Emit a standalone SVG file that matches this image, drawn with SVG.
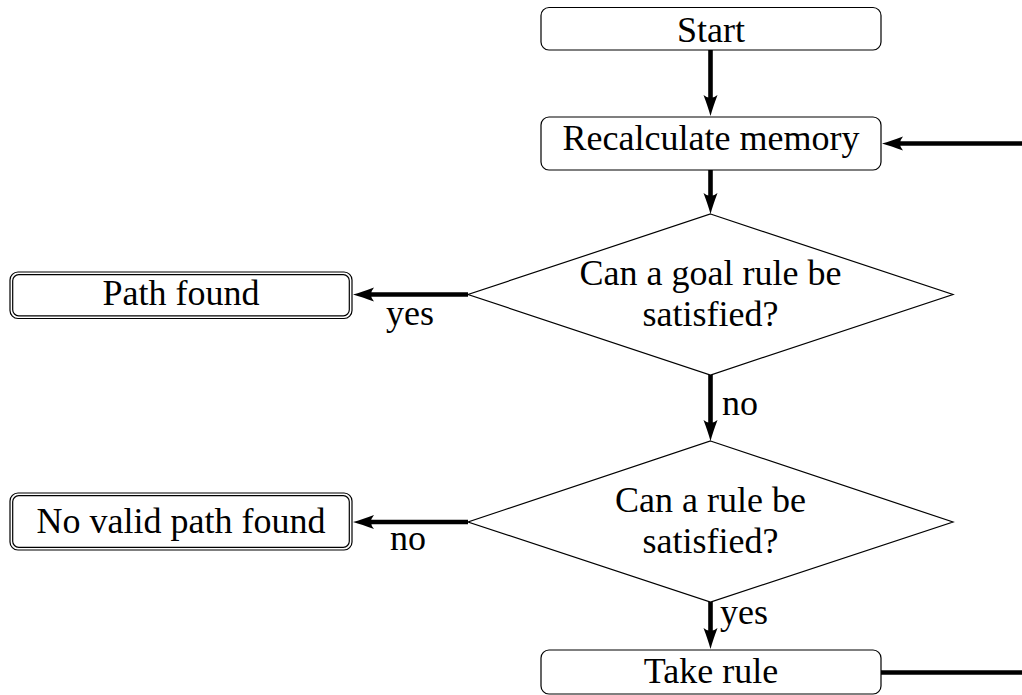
<svg xmlns="http://www.w3.org/2000/svg" width="1022" height="695" viewBox="0 0 1022 695">
  <style>
    .box { fill: #ffffff; stroke: #000000; stroke-width: 1.2; }
    .dec { fill: #ffffff; stroke: #000000; stroke-width: 1.2; stroke-linejoin: miter; }
    .lbl { font-family: "Liberation Serif", "Times New Roman", serif; font-size: 36px; fill: #000000; }
    .mid { text-anchor: middle; }
    .edge { fill: none; stroke: #000000; stroke-width: 4.6; }
    .head { fill: #000000; stroke: none; }
  </style>
  <defs>
    <!-- arrowhead with its tip at the origin, pointing along +x -->
    <path id="tip" class="head" d="M0,0 Q-9,-2.5 -21,-7 Q-15,0 -21,7 Q-9,2.5 0,0 Z"/>
  </defs>

  <rect width="1022" height="695" fill="#ffffff"/>

  <!-- connectors -->
  <g id="connectors">
    <!-- Start -> Recalculate memory -->
    <line class="edge" x1="710.5" y1="50" x2="710.5" y2="100"/>
    <use href="#tip" transform="translate(710.5,116) rotate(90)"/>
    <!-- Recalculate memory -> goal rule decision -->
    <line class="edge" x1="710.5" y1="170" x2="710.5" y2="198"/>
    <use href="#tip" transform="translate(710.5,214) rotate(90)"/>
    <!-- goal rule decision -> Path found -->
    <line class="edge" x1="468" y1="294.5" x2="369" y2="294.5"/>
    <use href="#tip" transform="translate(353,294.5) rotate(180)"/>
    <text class="lbl" x="386" y="325">yes</text>
    <!-- goal rule decision -> rule decision -->
    <line class="edge" x1="710.5" y1="375" x2="710.5" y2="425"/>
    <use href="#tip" transform="translate(710.5,441) rotate(90)"/>
    <text class="lbl" x="722" y="415">no</text>
    <!-- rule decision -> No valid path found -->
    <line class="edge" x1="468" y1="522" x2="369" y2="522"/>
    <use href="#tip" transform="translate(353,522) rotate(180)"/>
    <text class="lbl" x="390" y="550">no</text>
    <!-- rule decision -> Take rule -->
    <line class="edge" x1="710.5" y1="602" x2="710.5" y2="633"/>
    <use href="#tip" transform="translate(710.5,649) rotate(90)"/>
    <text class="lbl" x="720" y="624">yes</text>
    <!-- Take rule loops back to Recalculate memory -->
    <line class="edge" x1="881" y1="672.5" x2="1024" y2="672.5"/>
    <line class="edge" x1="1024" y1="143.5" x2="898" y2="143.5"/>
    <use href="#tip" transform="translate(882,143.5) rotate(180)"/>
  </g>

  <g id="start">
    <rect class="box" x="541" y="7.5" width="340" height="42.5" rx="8"/>
    <text class="lbl mid" x="711" y="42">Start</text>
  </g>

  <g id="recalculate">
    <rect class="box" x="541" y="117" width="340" height="53" rx="8"/>
    <text class="lbl mid" x="711" y="150">Recalculate memory</text>
  </g>

  <g id="goal-decision">
    <polygon class="dec" points="710.5,214 953,294.5 710.5,375 468,294.5"/>
    <text class="lbl mid" x="710.5" y="285">Can a goal rule be</text>
    <text class="lbl mid" x="710.5" y="326">satisfied?</text>
  </g>

  <g id="path-found">
    <rect class="box" x="10" y="272" width="342" height="46.5" rx="8"/>
    <rect class="box" x="12.7" y="274.7" width="336.6" height="41.1" rx="6"/>
    <text class="lbl mid" x="181" y="305">Path found</text>
  </g>

  <g id="rule-decision">
    <polygon class="dec" points="710.5,441 953,522 710.5,602 468,522"/>
    <text class="lbl mid" x="710.5" y="512">Can a rule be</text>
    <text class="lbl mid" x="710.5" y="553">satisfied?</text>
  </g>

  <g id="no-path">
    <rect class="box" x="10" y="493" width="342" height="57" rx="8"/>
    <rect class="box" x="12.7" y="495.7" width="336.6" height="51.6" rx="6"/>
    <text class="lbl mid" x="181" y="533">No valid path found</text>
  </g>

  <g id="take-rule">
    <rect class="box" x="541" y="650" width="340" height="44" rx="8"/>
    <text class="lbl mid" x="711" y="683">Take rule</text>
  </g>
</svg>
